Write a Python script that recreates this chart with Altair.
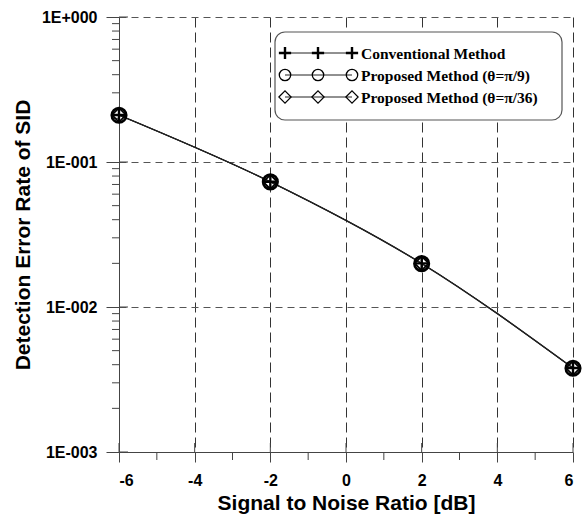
import altair as alt
import pandas as pd

# ---- data ----
snr = [-6, -2, 2, 6]
conventional = [0.211, 0.0731, 0.0200, 0.00380]
proposed_pi9 = [0.210, 0.0729, 0.0199, 0.00378]
proposed_pi36 = [0.211, 0.0730, 0.0200, 0.00379]
series_names = ["Conventional Method", "Proposed Method (θ=π/9)", "Proposed Method (θ=π/36)"]

y_major = [1, 0.1, 0.01, 0.001]
y_minor = [m * 10.0 ** e for e in (-3, -2, -1) for m in range(2, 10)]
x_major = [-6, -4, -2, 0, 2, 4, 6]
x_minor = [-5, -3, -1, 1, 3, 5]

W, H = 454, 435
SANS = "Liberation Sans"
SERIF = "Liberation Serif"
PLUS = "M-1,0L1,0M0,-1L0,1"
shapes = [PLUS, "circle", "diamond"]

values = [conventional, proposed_pi9, proposed_pi36]
df = pd.DataFrame(
    [{"snr": s, "rate": v, "series": n} for n, vals in zip(series_names, values) for s, v in zip(snr, vals)]
)

x_scale = alt.Scale(domain=[-6, 6], nice=False, zero=False)
y_scale = alt.Scale(type="log", domain=[0.001, 1], nice=False)

x_axis = alt.Axis(
    values=x_major, labelExpr="datum.value + ''", grid=True, gridDash=[10, 5], gridColor="#333",
    gridWidth=1, tickSize=10, tickColor="#444", domainColor="#444", labelFont=SANS,
    labelFontWeight="bold", labelFontSize=16, labelColor="black", labelPadding=10,
    title="Signal to Noise Ratio [dB]", titleFont=SANS, titleFontWeight="bold",
    titleFontSize=21, titleColor="black", titlePadding=4,
)
y_axis = alt.Axis(
    values=y_major,
    labelExpr="'1E' + (datum.value >= 1 ? '+000' : '-00' + round(-log(datum.value) / LN10))",
    grid=True, gridDash=[7, 5], gridColor="#555", gridWidth=1, tickSize=13, tickColor="#444",
    domainColor="#444", labelFont=SANS, labelFontWeight="bold", labelFontSize=16,
    labelColor="black", labelPadding=9, title="Detection Error Rate of SID", titleFont=SANS,
    titleFontWeight="bold", titleFontSize=21, titleColor="black", titlePadding=8,
)
x_enc = alt.X("snr:Q", scale=x_scale, axis=x_axis)
y_enc = alt.Y("rate:Q", scale=y_scale, axis=y_axis)

layers = []

lines = alt.Chart(df).mark_line(interpolate="monotone", color="#222", strokeWidth=1.1).encode(
    x=x_enc, y=y_enc, detail="series:N"
)
layers.append(lines)

# minor and inner ticks
ymin_df = pd.DataFrame({"rate": y_minor})
layers.append(alt.Chart(ymin_df).mark_rule(color="#444").encode(y=y_enc, x=alt.value(-7), x2=alt.value(0)))
ymaj_df = pd.DataFrame({"rate": y_major})
layers.append(alt.Chart(ymaj_df).mark_rule(color="#444").encode(y=y_enc, x=alt.value(0), x2=alt.value(9)))
xmin_df = pd.DataFrame({"snr": x_minor})
layers.append(alt.Chart(xmin_df).mark_rule(color="#444").encode(x=x_enc, y=alt.value(H), y2=alt.value(H + 8)))
xmaj_df = pd.DataFrame({"snr": x_major})
layers.append(alt.Chart(xmaj_df).mark_rule(color="#444").encode(x=x_enc, y=alt.value(H - 9), y2=alt.value(H)))

# markers on the curves
main_sizes = [210, 210, 200]
main_widths = [2.4, 2.6, 1.8]
for name, shp, sz, sw in zip(series_names, shapes, main_sizes, main_widths):
    layers.append(
        alt.Chart(df[df["series"] == name]).mark_point(
            shape=shp, size=sz, filled=False, color="black", strokeWidth=sw, opacity=1
        ).encode(x=x_enc, y=y_enc)
    )

# custom legend
one = pd.DataFrame({"k": [0]})
layers.append(
    alt.Chart(one).mark_rect(cornerRadius=10, fill="white", stroke="#555", strokeWidth=1.2).encode(
        x=alt.value(156), x2=alt.value(443), y=alt.value(15), y2=alt.value(103)
    )
)
row_y = [36, 58, 80]
mark_x = [166, 199, 233]
leg_sizes = [150, 130, 150]
leg_widths = [2.4, 1.3, 1.2]
for name, shp, ry, sz, sw in zip(series_names, shapes, row_y, leg_sizes, leg_widths):
    layers.append(
        alt.Chart(one).mark_rule(color="#222", strokeWidth=1).encode(
            x=alt.value(mark_x[0]), x2=alt.value(mark_x[-1]), y=alt.value(ry)
        )
    )
    for mx in mark_x:
        layers.append(
            alt.Chart(one).mark_point(
                shape=shp, size=sz, filled=False, color="black", strokeWidth=sw, opacity=1,
            ).encode(x=alt.value(mx), y=alt.value(ry))
        )
    layers.append(
        alt.Chart(pd.DataFrame({"label": [name]})).mark_text(
            align="left", baseline="middle", font=SERIF, fontWeight="bold", fontSize=15.5, color="black"
        ).encode(x=alt.value(mark_x[-1] + 9), y=alt.value(ry + 1), text="label:N")
    )

chart = (
    alt.layer(*layers)
    .properties(
        width=W, height=H,
        autosize=alt.AutoSizeParams(type="none"),
        padding={"left": 119, "top": 17, "right": 15, "bottom": 73},
        background="white",
    )
    .configure_view(stroke=None)
)

chart.save("out.html", embed_options={"renderer": "svg", "actions": False})
